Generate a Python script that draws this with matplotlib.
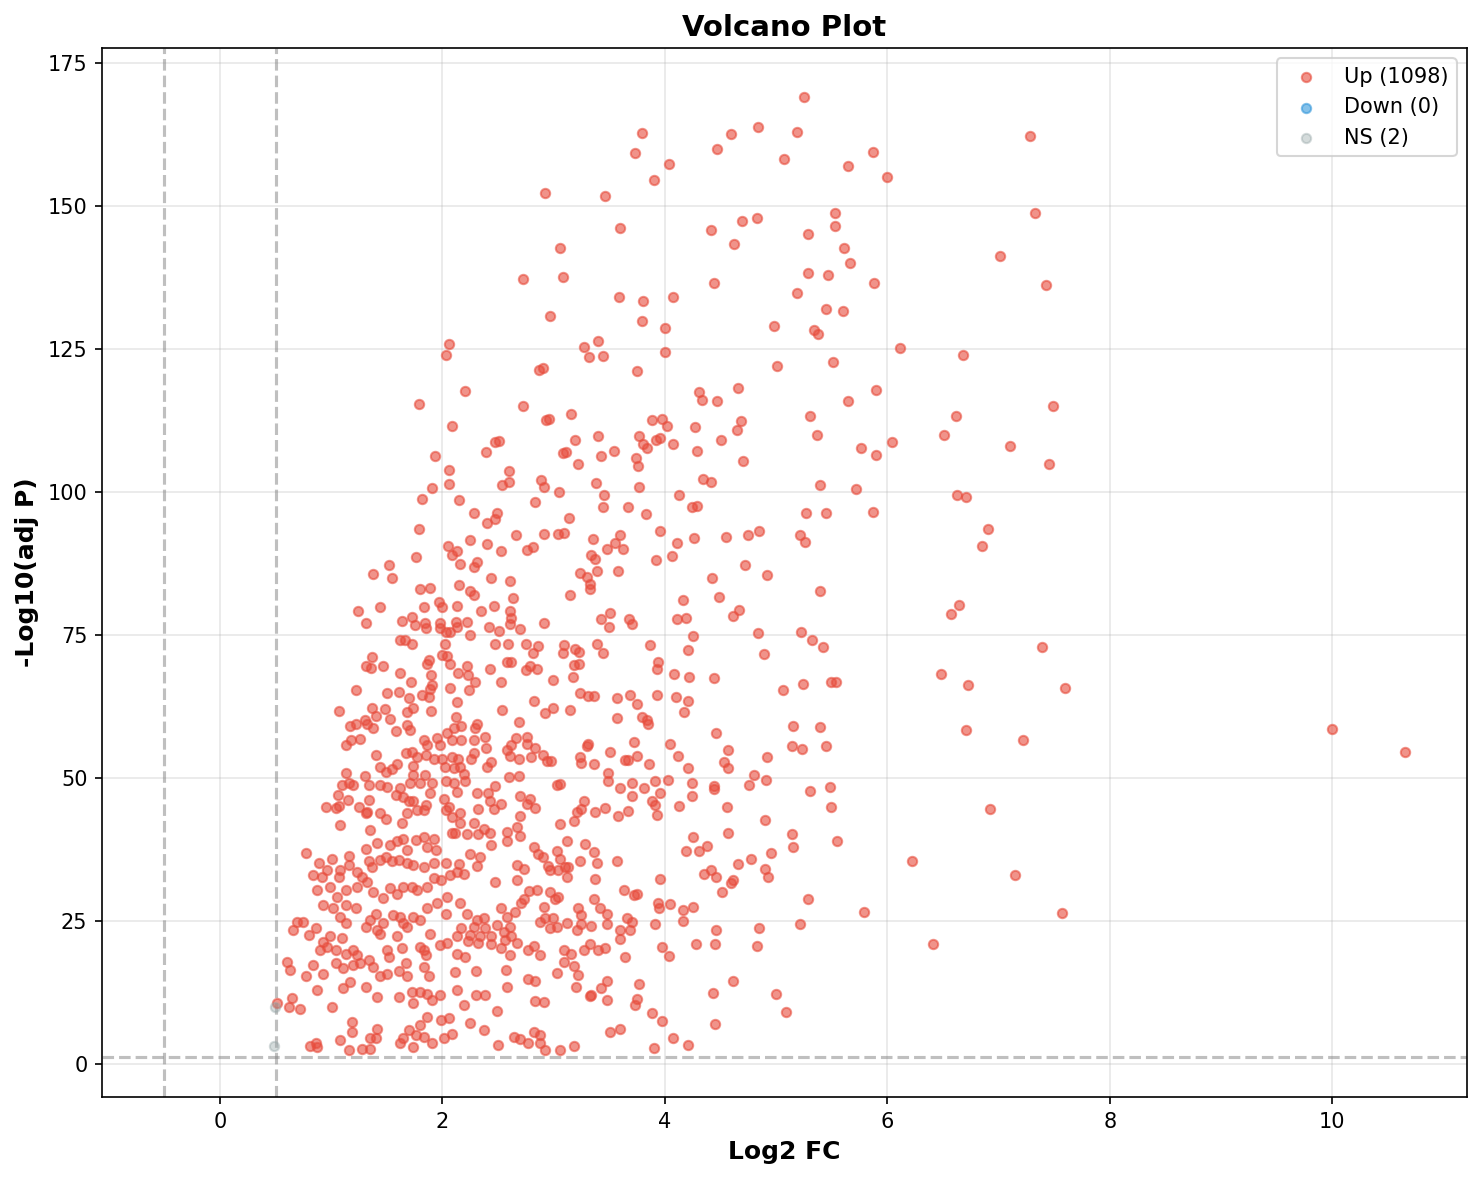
import numpy as np
import matplotlib
matplotlib.use("Agg")
import matplotlib.pyplot as plt

# ---------------- data ----------------
title = "Volcano Plot"
x_label = "Log2 FC"
y_label = "-Log10(adj P)"
fc_threshold = 0.5
p_threshold_line = 1.30103  # -log10(0.05)
up_count, down_count, ns_count = 1098, 0, 2

# Up-regulated points, grouped by region of the plot (log2FC, -log10 adj P)
up_low_left = [
    (1.10,48.8),(1.16,49.1),(1.20,48.8),(1.34,48.8),(1.44,48.8),(1.50,48.5),(1.62,48.2),(1.71,49.1),(1.80,49.1),(1.91,49.1),(2.03,49.4),(2.10,49.1),
    (1.06,47.0),(1.15,46.2),(1.07,45.1),(0.95,45.0),(1.04,44.7),(1.25,45.0),(1.34,46.2),(1.32,44.1),(1.44,43.8),(1.49,42.8),(1.31,43.8),(1.58,47.0),
    (1.65,46.7),(1.70,45.9),(1.74,45.9),(1.85,45.3),(1.89,47.3),(2.01,46.4),(2.06,45.0),(1.68,43.8),(1.64,42.1),(1.77,44.4),(1.83,44.4),(2.03,44.4),
    (2.09,43.2),(1.08,41.8),(1.35,40.9),(2.09,40.3),
    (0.77,36.9),(0.89,35.1),(1.01,35.8),(1.16,36.4),(1.31,37.5),(1.41,38.6),(1.53,38.3),(1.59,38.9),(1.65,39.4),(1.68,37.4),(1.76,39.2),(1.83,39.7),
    (1.92,39.4),(1.94,37.4),(1.86,38.0),
    (0.84,33.0),(0.92,32.7),(0.96,33.9),(1.08,33.9),(1.07,32.7),(1.16,34.8),(1.23,33.6),(1.28,32.7),(1.34,35.4),(1.37,34.5),(1.44,35.7),(1.49,36.2),
    (1.55,35.4),(1.61,35.7),(1.68,35.1),(1.74,34.8),(1.83,34.5),(1.92,35.1),(2.03,35.1),
    (0.87,30.4),(0.99,31.0),(1.05,29.2),(1.13,30.4),(1.23,31.0),(1.32,31.9),(1.38,30.1),(1.47,29.0),(1.53,30.7),(1.59,29.8),(1.65,31.0),(1.73,31.0),
    (1.77,30.4),(1.86,31.0),(1.92,32.5),(1.99,32.2),(2.07,33.0),(2.13,33.6),
    (0.93,27.8),(1.02,27.2),(1.13,27.8),(1.22,27.2),(1.08,25.7),(1.13,24.6),(1.35,25.2),(1.40,26.3),(1.47,24.6),(1.56,26.0),(1.62,25.7),(1.68,24.0),
    (1.74,25.7),(1.80,25.2),(1.86,27.2),(1.95,28.1),(2.03,26.3),(2.04,29.2),
    (0.69,24.9),(0.75,24.9),(0.66,23.4),(0.80,22.5),(0.86,23.7),(0.93,21.4),(0.99,22.3),(1.10,22.0),(1.31,24.0),(1.41,23.4),(1.44,22.8),(1.59,22.3),
    (1.65,24.6),(1.89,22.8),
    (0.90,19.9),(0.96,20.5),(1.04,19.9),(1.13,19.3),(1.20,19.9),(1.23,19.0),(1.34,18.2),(1.50,19.9),(1.52,18.7),(1.64,20.2),(1.80,20.5),(1.83,19.9),
    (1.85,19.0),(1.98,20.8),(2.04,21.1),
    (0.60,17.9),(0.63,16.4),(0.77,15.3),(0.84,17.3),(0.93,15.8),(1.04,17.6),(1.11,16.7),(1.20,17.3),(1.26,17.6),(1.38,17.0),(1.44,15.3),(1.50,15.8),
    (1.61,16.2),(1.67,17.6),(1.68,15.3),(1.83,17.0),(1.88,15.3),
    (0.87,12.9),(1.11,13.2),(1.17,14.4),(1.31,13.5),(1.41,11.7),(1.61,11.7),(1.73,12.6),(1.80,12.6),(1.86,12.3),(1.91,11.2),(1.98,12.0),(1.74,10.6),
    (0.51,10.7),(0.62,10.0),(0.65,11.5),(0.72,9.7),(1.01,10.0),
    (1.19,7.4),(1.19,5.6),(1.41,6.2),(1.35,4.5),(1.40,4.5),(1.08,4.2),(1.16,2.5),(1.28,2.7),(1.35,2.7),(0.86,3.6),(0.81,3.1),(0.87,3.0),(1.65,4.5),
    (1.70,5.9),(1.76,5.1),(1.80,6.8),(1.83,4.8),(1.86,8.3),(1.91,3.6),(1.99,7.7),(2.06,8.0),(2.01,4.5),(2.09,5.3),(1.74,3.0),(1.62,3.6),
]

up_mid_left = [
    (1.79,93.6),(2.05,90.6),(2.09,89.0),(1.76,88.6),(1.52,87.2),(1.38,85.7),(1.55,84.9),(1.80,83.0),(1.89,83.2),(1.97,80.8),(2.00,79.9),(1.83,79.8),
    (1.44,79.8),(1.24,79.2),(1.31,77.0),(1.64,77.4),(1.73,78.1),(1.75,76.7),(1.84,77.0),(1.85,76.2),(1.98,77.0),(1.98,76.3),(2.12,77.3),(2.03,75.6),
    (2.07,75.6),(1.62,74.2),(1.66,74.2),(1.73,73.5),(2.02,73.4),(2.00,71.5),(2.04,71.3),(2.07,69.9),(1.37,71.2),(1.31,69.6),(1.36,69.2),(1.47,69.6),
    (1.62,68.3),(1.88,70.7),(1.86,69.9),(1.90,68.0),(1.91,66.2),(1.72,66.8),(1.89,65.5),(1.88,64.2),(1.82,64.5),(1.70,63.9),(1.22,65.4),(1.50,64.9),
    (1.61,65.0),(2.07,65.7),(1.07,61.7),(1.37,62.3),(1.48,62.0),(1.40,60.8),(1.68,61.6),(1.74,62.2),(1.90,61.7),(1.30,60.2),(1.53,60.3),(1.17,59.0),
    (1.22,59.4),(1.32,59.5),(1.38,58.8),(1.68,59.2),(1.71,58.4),(1.58,58.2),(2.12,60.6),(2.10,58.7),(1.13,55.7),(1.18,56.6),(1.26,56.8),(1.83,56.6),
    (1.86,55.7),(1.95,56.9),(1.98,55.7),(2.04,57.8),(2.09,56.6),(1.40,54.0),(1.67,54.3),(1.73,54.6),(1.77,53.7),(1.85,54.0),(1.92,53.4),(2.00,53.4),
    (2.09,53.7),(1.59,52.5),(1.44,52.0),(1.49,51.1),(1.55,51.5),(1.74,52.1),(2.02,52.0),(2.10,51.7),(1.13,50.8),(1.30,50.3),(1.74,50.5),(1.84,50.5),
]

up_low_center = [
    (2.20,49.4),(2.47,48.6),(2.13,47.6),(2.31,47.3),(2.41,47.3),(2.43,45.9),(2.53,45.5),(2.32,44.5),(2.46,44.5),(2.16,43.8),(2.70,46.9),(2.79,46.4),
    (2.76,45.5),(2.83,44.7),(2.70,43.4),(3.03,48.8),(3.06,49.0),(3.27,46.0),(3.21,44.1),(3.25,44.5),(3.37,44.1),(3.46,44.7),(3.49,49.4),(3.60,48.2),
    (3.70,49.1),(3.70,46.9),(3.81,48.2),(3.91,49.4),(3.96,47.4),(3.88,46.0),(3.91,45.3),(3.93,43.5),(3.58,43.4),(3.67,44.3),(3.06,41.9),(3.18,42.5),
    (2.16,42.1),(2.28,42.1),(2.37,41.0),(2.11,40.3),(2.22,40.2),(2.32,40.2),(2.43,40.3),(2.58,40.6),(2.67,41.5),(2.70,39.9),(2.58,39.0),(2.44,38.3),
    (2.82,38.0),(2.86,36.7),(2.90,36.2),(3.03,37.3),(3.06,35.8),(3.12,39.0),(3.28,38.5),(3.36,37.1),(3.39,35.1),(3.24,35.5),(2.95,34.6),(2.97,33.9),
    (3.04,33.9),(3.10,34.4),(3.13,34.5),(3.12,32.6),(3.57,35.5),(3.37,32.3),(2.25,36.7),(2.34,36.1),(2.15,35.0),(2.31,34.6),(2.19,33.2),(2.67,34.8),
    (2.73,34.0),(2.67,32.2),(2.47,31.9),(3.96,32.3),(3.63,30.4),(3.72,29.5),(3.75,29.8),(2.78,30.3),(2.85,30.4),(2.73,28.9),(2.71,28.1),(2.97,30.1),
    (3.01,28.9),(3.04,29.2),(2.91,27.5),(2.65,26.6),(2.53,27.2),(2.58,25.7),(2.16,28.2),(2.22,26.3),(2.37,25.5),(2.31,25.2),(3.36,28.9),(3.22,27.2),
    (3.25,26.0),(3.42,27.2),(3.48,26.3),(3.66,25.5),(3.70,24.9),(3.94,28.1),(3.95,27.2),(3.91,24.5),(2.92,25.5),(2.99,25.5),(2.88,24.9),(2.97,23.7),
    (3.03,23.9),(3.12,24.6),(3.25,24.5),(3.34,24.1),(3.48,24.5),(3.21,23.4),(3.60,23.5),(3.69,23.4),(3.60,21.8),(3.97,20.5),(2.49,24.3),(2.61,24.0),
    (2.17,23.7),(2.28,24.0),(2.38,23.7),(2.13,22.3),(2.25,22.5),(2.34,22.3),(2.44,22.3),(2.55,23.1),(2.62,22.3),(2.23,21.5),(2.32,21.1),(2.44,21.0),
    (2.56,21.7),(2.67,21.1),(2.13,19.3),(2.20,18.7),(2.53,20.2),(2.61,19.0),(2.77,20.0),(2.82,20.6),(2.88,19.0),(3.09,19.9),(3.16,19.3),(3.09,17.9),
    (3.27,19.9),(3.33,21.0),(3.40,20.0),(3.46,20.2),(3.64,18.7),(2.11,16.1),(2.30,16.2),(2.57,16.5),(3.03,15.9),(3.18,17.1),(3.22,15.5),(2.77,14.8),
    (2.83,14.5),(2.58,13.4),(2.13,12.9),(2.30,12.0),(2.38,12.0),(3.20,13.4),(3.48,14.5),(3.43,13.2),(3.77,14.0),(3.33,11.9),(3.34,12.0),(3.48,11.2),
    (3.75,11.3),(3.73,10.3),(2.83,11.0),(2.91,10.9),(2.19,10.3),(2.49,9.3),(3.88,9.0),(3.97,7.6),(2.25,7.1),(2.37,6.0),(3.51,5.6),(3.60,6.2),
    (2.64,4.8),(2.70,4.3),(2.82,5.6),(2.88,5.0),(2.77,3.6),(2.88,3.6),(2.92,2.5),(3.06,2.4),(3.18,3.1),(2.50,3.3),(3.90,2.8),
]

up_mid_center = [
    (2.28,96.4),(2.40,94.5),(2.47,95.2),(2.49,96.4),(2.66,92.5),(2.25,91.6),(2.40,90.9),(2.53,89.6),(2.91,92.7),(3.04,92.7),(3.09,92.9),(3.14,95.4),
    (3.83,96.2),(3.96,93.2),(3.35,91.7),(3.48,90.1),(3.55,91.0),(3.60,92.5),(3.62,90.1),(2.76,89.9),(2.81,90.3),(3.34,89.0),(3.37,88.2),(3.39,86.2),
    (3.58,86.1),(3.92,88.1),(3.24,85.9),(3.30,85.1),(3.33,83.9),(3.33,83.0),(3.15,82.0),(2.13,89.7),(2.16,87.4),(2.31,87.8),(2.28,86.9),(2.44,84.9),
    (2.61,84.4),(2.15,83.7),(2.25,82.6),(2.28,82.0),(2.63,81.5),(2.13,80.1),(2.46,80.1),(2.35,79.1),(2.61,79.1),(2.62,77.9),(2.61,76.9),(2.70,76.0),
    (2.22,77.3),(2.42,76.4),(2.51,75.7),(2.13,76.4),(2.91,77.1),(3.43,77.7),(3.51,78.8),(3.50,76.4),(3.68,77.7),(3.70,76.9),(2.25,75.0),(2.47,73.4),
    (2.59,73.5),(2.75,73.5),(2.81,71.9),(2.86,73.1),(3.09,73.2),(3.08,71.9),(3.19,72.5),(3.23,72.1),(3.39,73.5),(3.44,71.9),(3.87,73.2),(2.22,69.6),
    (2.14,68.4),(2.23,68.0),(2.29,66.8),(2.43,69.0),(2.58,70.3),(2.62,70.2),(2.75,68.9),(2.79,69.5),(2.85,69.0),(2.99,67.1),(3.18,69.7),(3.23,70.0),
    (3.17,67.6),(3.94,70.2),(3.93,69.0),(2.53,66.7),(2.24,65.3),(2.13,63.3),(3.24,64.9),(3.31,64.3),(3.36,64.3),(3.57,63.9),(3.69,64.5),(3.75,63.0),
    (3.93,64.5),(2.82,63.5),(2.54,61.9),(2.92,61.3),(2.99,62.3),(3.15,61.8),(3.57,60.4),(3.79,60.7),(3.84,60.1),(3.85,59.5),(2.69,59.7),(2.31,59.4),
    (2.17,59.0),(2.29,58.7),(2.38,57.1),(2.17,56.7),(2.28,56.6),(2.39,55.3),(2.66,56.9),(2.76,57.1),(2.62,55.7),(2.76,56.0),(2.83,55.3),(2.58,54.8),
    (2.61,53.8),(2.69,53.3),(2.80,53.7),(2.90,54.0),(2.94,53.0),(2.98,53.0),(3.31,56.0),(3.30,55.5),(3.51,54.6),(3.72,56.2),(3.24,53.6),(3.25,52.7),
    (3.36,52.5),(3.64,53.2),(3.67,53.1),(3.75,53.8),(3.86,52.4),(2.28,54.4),(2.26,53.4),(2.14,53.4),(2.16,52.0),(2.44,52.8),(2.40,52.0),(2.19,50.7),
    (2.60,50.2),(2.69,50.3),(3.49,50.9),
]

up_upper_center = [
    (2.06,125.9),(2.03,124.0),(3.27,125.3),(3.40,126.3),(3.32,123.5),(3.44,123.8),(2.87,121.3),(2.90,121.6),(3.75,121.2),(2.20,117.7),
    (1.79,115.3),(2.72,115.0),(2.93,112.5),(2.96,112.8),(3.16,113.6),(3.88,112.6),(3.97,112.8),(4.02,111.5),(2.09,111.5),(2.47,108.7),(2.51,108.9),
    (2.39,106.9),(3.19,109.1),(3.40,109.8),(3.77,109.8),(3.80,108.4),(3.84,107.6),(3.92,109.0),(3.96,109.4),(4.07,108.4),(1.93,106.3),(2.06,103.9),
    (2.06,101.4),(1.91,100.6),(2.60,103.7),(2.60,101.7),(2.54,101.2),(3.08,106.8),(3.11,106.9),(3.22,104.8),(3.43,106.3),(3.54,107.2),(3.74,105.9),
    (3.76,104.5),(2.89,102.0),(2.91,100.9),(3.05,99.9),(3.38,101.5),(3.45,99.5),(3.77,100.9),(1.82,98.8),(2.15,98.6),(2.83,98.2),(3.44,97.4),
    (3.67,97.3),(4.00,124.5),
]

up_low_right = [
    (4.03,49.65),(4.24,49.2),(4.44,48.6),(4.44,48.0),(4.76,48.8),(4.91,49.6),(5.30,47.7),(4.13,45.1),(4.24,46.9),(4.56,44.9),(4.90,42.7),(4.25,39.6),
    (4.57,40.3),(5.14,40.2),(5.15,37.9),(4.19,37.2),(4.31,37.2),(4.38,38.1),(4.77,35.8),(4.95,36.8),(4.66,34.9),(4.90,34.1),(4.93,32.6),(4.35,33.2),
    (4.41,33.9),(4.46,32.6),(4.61,32.2),(4.59,31.6),(4.51,30.0),(4.05,27.9),(4.16,27.0),(4.25,27.4),(4.16,25.0),(4.46,23.5),(4.85,23.7),(5.21,24.5),
    (5.29,28.8),(4.04,18.9),(4.28,21.0),(4.45,21.0),(4.83,20.6),(4.61,14.5),(4.43,12.4),(5.00,12.2),(5.09,9.1),(4.45,7.0),(4.07,4.6),(4.21,3.3),
]

up_mid_right = [
    (4.24,97.3),(4.29,97.6),(5.27,96.3),(4.11,91.0),(4.06,88.8),(4.26,91.9),(4.55,92.1),(4.75,92.5),(4.85,93.2),(5.21,92.5),(5.26,91.3),(4.72,87.2),
    (4.92,85.4),(4.42,84.9),(4.49,81.7),(4.16,81.1),(4.11,77.8),(4.19,77.9),(4.67,79.4),(4.61,78.3),(4.25,74.8),(4.84,75.3),(5.22,75.5),(5.32,74.2),
    (4.21,72.4),(4.89,71.7),(4.08,68.2),(4.22,67.6),(4.44,67.4),(5.24,66.5),(5.06,65.3),(4.10,64.2),(4.21,63.4),(4.17,61.5),(4.46,57.8),(5.15,59.0),
    (4.05,55.9),(4.12,53.9),(4.57,54.9),(4.53,52.8),(4.57,51.8),(4.21,51.7),(5.14,55.6),(5.23,55.1),(4.92,53.6),(4.80,50.5),
]

up_top = [
    (5.25,169.1),(3.79,162.7),(3.73,159.2),(4.59,162.6),(4.84,163.8),(5.19,162.9),(4.47,159.9),(5.07,158.2),(4.04,157.3),(3.90,154.5),(5.87,159.4),
    (5.65,157.0),(6.00,155.1),(2.92,152.2),(3.46,151.8),(5.53,148.7),(5.53,146.5),(4.69,147.4),(4.83,147.9),(4.41,145.8),(5.29,145.0),(4.62,143.3),
    (5.61,142.6),(5.66,140.0),(3.60,146.1),(3.06,142.6),(2.72,137.3),(3.08,137.5),(5.29,138.2),(5.47,137.9),(5.88,136.5),(4.44,136.6),(3.59,134.0),
    (3.80,133.4),(4.07,134.1),(5.19,134.7),(5.45,131.9),(5.60,131.6),(2.97,130.7),(3.79,129.9),(4.00,128.6),(4.98,129.0),(5.34,128.3),
]

up_upper_right = [
    (5.38,127.6),(6.11,125.1),(5.01,122.0),(5.51,122.7),(4.31,117.5),(4.33,116.1),(4.47,115.9),(4.66,118.1),(5.90,117.8),(5.65,115.9),(4.27,111.3),
    (4.68,112.4),(4.65,110.8),(4.50,109.1),(4.29,107.2),(4.70,105.4),(5.30,113.3),(5.37,109.9),(5.76,107.7),(6.04,108.7),(5.90,106.5),(4.34,102.3),
    (4.41,101.7),(5.39,101.2),(5.72,100.5),(4.13,99.5),
]

up_far_right = [
    (7.28,162.3),(7.33,148.8),(7.01,141.3),(7.43,136.1),(6.68,124.0),(7.49,115.1),(6.62,113.2),(6.51,109.9),(7.10,108.0),(7.45,104.8),(6.63,99.4),
    (6.71,99.2),(6.90,93.5),(6.85,90.5),(6.64,80.2),(6.57,78.6),(7.39,72.9),(6.48,68.2),(6.72,66.3),(7.60,65.7),(6.71,58.4),(7.22,56.6),(6.92,44.6),
    (6.22,35.4),(7.15,33.0),(7.57,26.4),(6.41,21.0),
    (5.39,82.7),(5.42,72.9),(5.49,66.8),(5.54,66.8),(5.39,58.9),(5.45,55.6),(5.48,48.4),(5.49,44.9),(5.55,39.0),(5.79,26.6),(5.45,96.3),(5.87,96.5),
    (10.00,58.6),(10.65,54.5),
]

ns_points = [(0.495, 10.0), (0.486, 3.1)]
down_points = []

# ---------------- plotting ----------------
up = np.array(up_low_left + up_mid_left + up_low_center + up_mid_center + up_upper_center
              + up_low_right + up_mid_right + up_top + up_upper_right + up_far_right)
ns = np.array(ns_points)

fig = plt.figure(figsize=(1482 / 150, 1180 / 150), dpi=150)
ax = fig.add_axes([102 / 1482, 1 - 1097 / 1180, (1467 - 102) / 1482, (1097 - 48) / 1180])

ax.scatter(up[:, 0], up[:, 1], s=20, c="#e74c3c", alpha=0.6, label=f"Up ({up_count})", zorder=3)
ax.scatter([p[0] for p in down_points], [p[1] for p in down_points], s=20, c="#3498db", alpha=0.6,
           label=f"Down ({down_count})", zorder=3)
ax.scatter(ns[:, 0], ns[:, 1], s=20, c="#95a5a6", alpha=0.4, label=f"NS ({ns_count})", zorder=3)

ax.axvline(fc_threshold, color="gray", linestyle="--", linewidth=1.5, alpha=0.5)
ax.axvline(-fc_threshold, color="gray", linestyle="--", linewidth=1.5, alpha=0.5)
ax.axhline(p_threshold_line, color="gray", linestyle="--", linewidth=1.5, alpha=0.5)

ax.set_xlim(-1.06, 11.21)
ax.set_ylim(-5.77, 177.6)
ax.set_xticks([0, 2, 4, 6, 8, 10])
ax.set_yticks([0, 25, 50, 75, 100, 125, 150, 175])
ax.grid(True, alpha=0.3)
ax.set_axisbelow(True)

ax.set_xlabel(x_label, fontsize=12, fontweight="bold")
ax.set_ylabel(y_label, fontsize=12, fontweight="bold")
ax.set_title(title, fontsize=14, fontweight="bold")
ax.legend(loc="upper right")

fig.savefig("out.png", dpi=150)
